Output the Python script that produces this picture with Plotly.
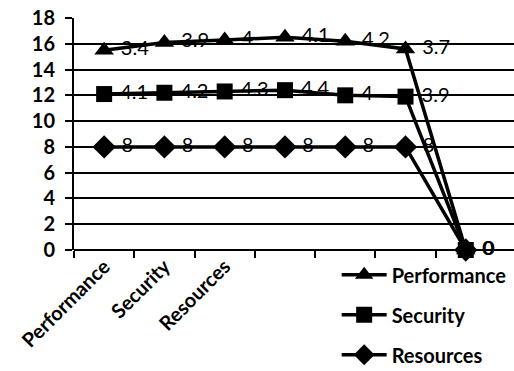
import plotly.graph_objects as go

# Category positions along the x axis (only the first three carry a label)
positions = [1, 2, 3, 4, 5, 6, 7]
category_labels = ["Performance", "Security", "Resources"]
boundaries = [0.5, 1.5, 2.5, 3.5, 4.5, 5.5, 6.5]

# Series values (stacked: Resources at the bottom, then Security, then Performance)
resources = [8, 8, 8, 8, 8, 8, 0]
security = [4.1, 4.2, 4.3, 4.4, 4, 3.9, 0]
performance = [3.4, 3.9, 4, 4.1, 4.2, 3.7, 0]

y_ticks = list(range(0, 19, 2))

FONT = "Lato"

# name, values, marker symbol, marker size, legend rank
series = [
    ("Resources", resources, "diamond", 18, 3),
    ("Security", security, "square", 16, 2),
    ("Performance", performance, "triangle-up", 17, 1),
]

fig = go.Figure()
for name, vals, symbol, size, rank in series:
    fig.add_trace(go.Scatter(
        x=positions,
        y=vals,
        name=name,
        legendgroup=name,
        legendrank=rank,
        stackgroup="stack",
        fill="none",
        mode="lines+markers+text",
        line=dict(color="black", width=3.5),
        marker=dict(symbol=symbol, size=size, color="black"),
        text=["\u00a0" + f"{v:g}" for v in vals],
        texttemplate="%{text}",
        textposition="middle right",
        textfont=dict(family=FONT, size=20, color="black"),
        cliponaxis=False,
    ))

fig.update_layout(
    width=514,
    height=371,
    margin=dict(l=74, r=0, t=18, b=121, autoexpand=False),
    paper_bgcolor="white",
    plot_bgcolor="white",
    font=dict(family=FONT, color="black"),
    showlegend=True,
    legend=dict(
        xref="container", yref="container",
        x=0.655, y=0.312, xanchor="left", yanchor="top",
        traceorder="grouped",
        tracegroupgap=11,
        itemwidth=45,
        font=dict(family=FONT, size=20, color="black", weight="bold"),
        bgcolor="rgba(0,0,0,0)",
    ),
    xaxis=dict(
        range=[0.5, 7.8],
        automargin=False,
        tickmode="array",
        tickvals=positions[:len(category_labels)],
        ticktext=category_labels,
        tickangle=-45,
        ticks="",
        tickfont=dict(family=FONT, size=20, color="black", weight="bold"),
        showgrid=False,
        zeroline=False,
        showline=False,
        minor=dict(tickmode="array", tickvals=boundaries, ticks="outside",
                   ticklen=7, tickwidth=2, tickcolor="black", showgrid=False),
    ),
    yaxis=dict(
        range=[0, 18],
        automargin=False,
        tickmode="array",
        tickvals=y_ticks,
        ticks="outside",
        ticklen=7,
        tickwidth=2,
        tickcolor="black",
        ticklabelstandoff=6,
        showgrid=True,
        gridcolor="black",
        gridwidth=2,
        zeroline=True,
        zerolinecolor="black",
        zerolinewidth=2,
        showline=True,
        linecolor="black",
        linewidth=2,
        tickfont=dict(family=FONT, size=20, color="black", weight="bold"),
    ),
)

fig.write_html("out.html")
